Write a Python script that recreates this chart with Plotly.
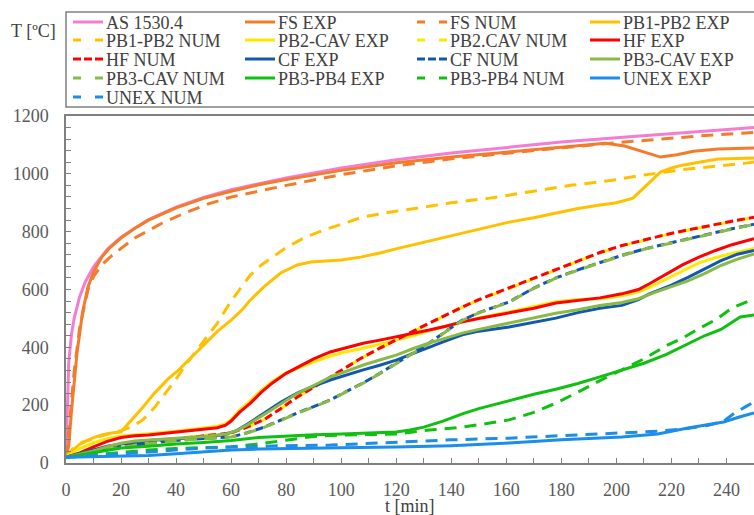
import plotly.graph_objects as go

# ---------------- data ----------------
names = ["AS 1530.4", "FS EXP", "FS NUM", "PB1-PB2 EXP", "PB1-PB2 NUM",
         "PB2-CAV EXP", "PB2.CAV NUM", "HF EXP", "HF NUM", "CF EXP",
         "CF NUM", "PB3-CAV EXP", "PB3-CAV NUM", "PB3-PB4 EXP", "PB3-PB4 NUM",
         "UNEX EXP", "UNEX NUM"]

as_t = [0, 1, 2, 3, 5, 7, 10, 15, 20, 30, 40, 50, 60, 80, 100, 120, 140, 160, 180, 200, 220, 240, 250]
as_T = [20, 349, 445, 502, 576, 626, 678, 739, 781, 842, 885, 918, 945, 986, 1020, 1049, 1072, 1092, 1110, 1125, 1140, 1153, 1160]

fs_exp_t = [0, 1, 2, 4, 6, 8, 10, 13, 16, 20, 25, 30, 40, 50, 60, 70, 80, 90, 100, 120, 140, 160, 180, 190, 196, 203, 210, 216, 222, 228, 237, 250]
fs_exp_T = [20, 60, 180, 380, 520, 610, 660, 712, 745, 778, 812, 840, 882, 915, 940, 962, 980, 997, 1012, 1038, 1058, 1075, 1092, 1100, 1106, 1096, 1075, 1058, 1066, 1078, 1086, 1089]

fs_num_t = [0, 1, 3, 5, 8, 10, 13, 16, 20, 25, 29, 35, 44, 52, 60, 68, 80, 100, 120, 140, 160, 180, 198, 212, 230, 247, 250]
fs_num_T = [20, 110, 320, 470, 600, 645, 685, 712, 742, 778, 799, 830, 868, 897, 920, 937, 960, 997, 1028, 1052, 1072, 1090, 1106, 1117, 1131, 1141, 1143]

pb12_exp_t = [0, 2, 5, 8, 10, 13, 16, 20, 24, 28, 32, 37, 41, 46, 50, 55, 60, 64, 67, 72, 78, 84, 89, 95, 100, 107, 114, 121, 129, 137, 144, 154, 161, 170, 178, 186, 194, 200, 206, 211, 216, 220, 224, 230, 237, 250]
pb12_exp_T = [20, 40, 65, 80, 88, 97, 103, 108, 150, 194, 240, 290, 322, 370, 410, 455, 494, 530, 564, 610, 657, 685, 695, 700, 702, 712, 726, 743, 761, 778, 795, 816, 833, 848, 864, 880, 892, 900, 916, 960, 1006, 1020, 1030, 1040, 1051, 1055]

pb12_num_t = [0, 3, 6, 10, 15, 20, 24, 28, 32, 36, 40, 44, 50, 55, 60, 63, 67, 71, 75, 80, 87, 95, 108, 118, 128, 140, 154, 161, 172, 184, 194, 200, 210, 226, 247, 250]
pb12_num_T = [20, 55, 72, 85, 100, 112, 125, 150, 190, 240, 290, 346, 420, 484, 560, 600, 650, 685, 712, 745, 781, 810, 851, 868, 882, 900, 916, 927, 942, 961, 972, 980, 996, 1017, 1037, 1041]

pb2cav_exp_t = [0, 5, 10, 15, 20, 25, 30, 40, 50, 55, 58, 60, 63, 67, 71, 75, 80, 86, 90, 96, 102, 108, 114, 120, 126, 132, 138, 144, 150, 161, 170, 178, 186, 194, 202, 208, 212, 218, 224, 230, 236, 242, 250]
pb2cav_exp_T = [20, 50, 70, 84, 93, 98, 101, 110, 120, 127, 136, 150, 182, 215, 252, 282, 312, 335, 350, 370, 385, 397, 410, 425, 440, 458, 473, 488, 502, 522, 540, 558, 565, 568, 578, 592, 607, 636, 665, 692, 710, 725, 742]

pb2cav_num_t = [0, 5, 10, 15, 20, 25, 30, 40, 50, 55, 60, 66, 72, 78, 84, 90, 96, 102, 108, 114, 120, 126, 132, 138, 144, 150, 154, 161, 170, 178, 186, 194, 202, 210, 218, 226, 234, 242, 250]
pb2cav_num_T = [20, 31, 43, 55, 63, 69, 74, 85, 95, 99, 104, 124, 150, 187, 227, 262, 296, 331, 366, 396, 425, 455, 483, 511, 538, 564, 578, 603, 638, 668, 699, 727, 751, 771, 789, 805, 821, 835, 849]

hf_exp_t = [0, 5, 10, 15, 20, 25, 30, 35, 40, 45, 50, 55, 58, 60, 63, 67, 71, 75, 80, 86, 90, 96, 102, 108, 114, 120, 126, 132, 138, 144, 150, 161, 170, 178, 186, 194, 202, 208, 212, 218, 224, 230, 236, 242, 250]
hf_exp_T = [20, 35, 56, 75, 88, 94, 97, 102, 106, 110, 115, 122, 131, 145, 175, 207, 245, 277, 310, 339, 360, 384, 398, 414, 425, 436, 448, 460, 473, 488, 500, 518, 535, 553, 562, 571, 585, 600, 620, 652, 685, 712, 735, 755, 776]

hf_num_t = [0, 5, 10, 15, 20, 25, 30, 40, 50, 55, 60, 66, 72, 78, 84, 90, 96, 102, 108, 114, 120, 126, 132, 138, 144, 150, 154, 161, 170, 178, 186, 194, 202, 210, 218, 226, 234, 242, 250]
hf_num_T = [20, 30, 42, 54, 62, 68, 73, 84, 95, 99, 104, 125, 150, 188, 228, 262, 297, 332, 367, 397, 425, 455, 484, 512, 539, 565, 580, 605, 640, 670, 700, 728, 752, 772, 790, 806, 822, 836, 850]

cf_exp_t = [0, 5, 10, 15, 20, 25, 30, 40, 46, 52, 58, 62, 66, 72, 78, 84, 90, 96, 102, 108, 114, 120, 126, 132, 138, 144, 150, 161, 170, 178, 186, 194, 202, 208, 212, 220, 226, 232, 238, 244, 250]
cf_exp_T = [20, 32, 45, 58, 66, 72, 78, 84, 86, 90, 100, 112, 135, 173, 210, 242, 266, 287, 305, 322, 338, 356, 378, 401, 422, 443, 456, 470, 486, 501, 520, 535, 545, 565, 585, 615, 642, 672, 700, 722, 735]

cf_num_t = [0, 10, 20, 30, 40, 50, 60, 66, 72, 78, 84, 90, 96, 102, 108, 114, 120, 126, 132, 138, 144, 150, 161, 170, 178, 186, 194, 202, 210, 218, 226, 234, 242, 250]
cf_num_T = [20, 38, 55, 68, 78, 85, 90, 105, 124, 148, 173, 195, 218, 248, 277, 310, 346, 380, 415, 455, 494, 520, 557, 605, 640, 668, 693, 718, 740, 758, 775, 793, 810, 826]

pb3cav_exp_t = [0, 5, 10, 15, 20, 25, 30, 40, 50, 58, 62, 66, 72, 78, 84, 90, 96, 102, 108, 114, 120, 126, 132, 138, 144, 150, 161, 170, 178, 186, 194, 202, 208, 214, 220, 226, 232, 238, 244, 250]
pb3cav_exp_T = [20, 30, 42, 56, 68, 76, 80, 86, 92, 100, 112, 132, 168, 205, 240, 268, 297, 318, 339, 356, 373, 395, 415, 432, 449, 462, 484, 500, 518, 530, 545, 555, 568, 590, 610, 630, 655, 683, 705, 723]

pb3cav_num_t = [0, 10, 20, 30, 40, 50, 60, 66, 72, 78, 84, 90, 96, 102, 108, 114, 120, 126, 132, 138, 144, 150, 161, 170, 178, 186, 194, 202, 210, 218, 226, 234, 242, 250]
pb3cav_num_T = [20, 37, 54, 67, 77, 84, 90, 104, 123, 147, 172, 194, 217, 247, 276, 309, 345, 379, 414, 454, 493, 519, 556, 604, 639, 667, 692, 717, 739, 757, 774, 792, 809, 825]

pb34_exp_t = [0, 5, 10, 20, 30, 40, 50, 60, 70, 80, 90, 100, 110, 120, 125, 130, 137, 144, 150, 154, 161, 170, 178, 186, 194, 202, 210, 218, 226, 232, 238, 242, 245, 250]
pb34_exp_T = [20, 28, 38, 52, 58, 66, 71, 78, 88, 93, 98, 100, 103, 107, 114, 124, 145, 170, 188, 198, 218, 238, 255, 275, 298, 322, 345, 375, 413, 440, 462, 488, 505, 512]

pb34_num_t = [0, 10, 20, 30, 40, 50, 60, 70, 80, 90, 100, 110, 120, 132, 144, 154, 161, 170, 178, 186, 194, 202, 210, 218, 224, 230, 236, 242, 250]
pb34_num_T = [20, 28, 38, 45, 50, 53, 56, 66, 80, 92, 97, 99, 100, 114, 124, 138, 149, 175, 207, 245, 285, 322, 360, 405, 432, 465, 495, 536, 568]

unex_exp_t = [0, 10, 20, 30, 40, 50, 60, 70, 80, 90, 100, 120, 140, 161, 180, 202, 215, 226, 232, 239, 245, 250]
unex_exp_T = [20, 22, 24, 26, 32, 38, 45, 48, 50, 52, 53, 55, 60, 69, 80, 90, 100, 121, 130, 142, 160, 173]

unex_num_t = [0, 10, 20, 30, 40, 50, 60, 70, 80, 96, 120, 140, 161, 180, 202, 215, 225, 233, 239, 243, 247, 250]
unex_num_T = [20, 25, 32, 38, 45, 52, 55, 58, 60, 62, 73, 80, 86, 95, 104, 110, 118, 130, 145, 173, 195, 211]

series_t = [as_t, fs_exp_t, fs_num_t, pb12_exp_t, pb12_num_t, pb2cav_exp_t, pb2cav_num_t,
            hf_exp_t, hf_num_t, cf_exp_t, cf_num_t, pb3cav_exp_t, pb3cav_num_t,
            pb34_exp_t, pb34_num_t, unex_exp_t, unex_num_t]
series_T = [as_T, fs_exp_T, fs_num_T, pb12_exp_T, pb12_num_T, pb2cav_exp_T, pb2cav_num_T,
            hf_exp_T, hf_num_T, cf_exp_T, cf_num_T, pb3cav_exp_T, pb3cav_num_T,
            pb34_exp_T, pb34_num_T, unex_exp_T, unex_num_T]

x_ticks = list(range(0, 260, 20))
y_ticks = list(range(0, 1400, 200))

# ---------------- styles ----------------
PINK, ORANGE, GOLD, YELLOW = "#F47DD2", "#F47B2A", "#FFC000", "#FFE800"
RED, DBLUE, LGREEN, GREEN, SKY = "#FF0000", "#1357B0", "#88BA45", "#10C010", "#1C8DE8"
colors = [PINK, ORANGE, ORANGE, GOLD, GOLD, YELLOW, YELLOW, RED, RED, DBLUE, DBLUE,
          LGREEN, LGREEN, GREEN, GREEN, SKY, SKY]
LONG = "12px,8px"
SHORT = "8px,4px"
dashes = ["solid", "solid", LONG, "solid", LONG, "solid", LONG, "solid", SHORT,
          "solid", SHORT, "solid", LONG, "solid", LONG, "solid", LONG]
leg_dashes = ["solid", "solid", "8px,14px", "solid", "8px,14px", "solid", "8px,14px",
              "solid", "8px,3px", "solid", "8px,3px", "solid", "8px,14px", "solid",
              "8px,14px", "solid", "8px,14px"]

FONT = "'Liberation Serif', 'Times New Roman', Times, serif"
TXT = "#595959"
AX = "#808080"

# pixel layout helpers
L, R, TOP, BOT = 66, 754, 116, 463
def px(x):
    return (x - L) / (R - L)
def py(y):
    return (BOT - y) / (BOT - TOP)

fig = go.Figure()
for t, T, n, c, d in zip(series_t, series_T, names, colors, dashes):
    fig.add_trace(go.Scatter(x=t, y=T, name=n, mode="lines",
                             line=dict(color=c, width=3, dash=d),
                             showlegend=False))

shapes = []
annotations = []
# legend box
shapes.append(dict(type="rect", xref="paper", yref="paper",
                   x0=px(66), x1=px(800), y0=py(107), y1=py(12),
                   line=dict(color=AX, width=1.5), fillcolor="white", layer="above"))
col_x = [73, 245, 417, 590]
row_y = [22, 40, 59, 78, 97]
for i, (n, c, d) in enumerate(zip(names, colors, leg_dashes)):
    r, k = divmod(i, 4)
    x0 = col_x[k]
    y0 = row_y[r]
    shapes.append(dict(type="line", xref="paper", yref="paper",
                       x0=px(x0), x1=px(x0 + 30), y0=py(y0), y1=py(y0),
                       line=dict(color=c, width=3, dash=d), layer="above"))
    annotations.append(dict(text=n, xref="paper", yref="paper", x=px(x0 + 31), y=py(y0 + 1),
                            xanchor="left", yanchor="middle", showarrow=False,
                            font=dict(family=FONT, size=18, color="#404040")))

annotations.append(dict(text="T [ºC]", xref="paper", yref="paper", x=px(33), y=py(31),
                        xanchor="center", yanchor="middle", showarrow=False,
                        font=dict(family=FONT, size=18, color="#404040")))
annotations.append(dict(text="t [min]", xref="paper", yref="paper", x=0.5, y=py(506),
                        xanchor="center", yanchor="middle", showarrow=False,
                        font=dict(family=FONT, size=18, color="#404040")))

fig.update_layout(
    width=754, height=515,
    margin=dict(l=L, r=754 - R, t=TOP, b=515 - BOT, autoexpand=False),
    paper_bgcolor="white", plot_bgcolor="white",
    font=dict(family=FONT, size=18, color=TXT),
    showlegend=False,
    shapes=shapes, annotations=annotations,
    xaxis=dict(range=[0, 250], tickvals=x_ticks, showgrid=False, zeroline=False,
               automargin=False,
               showline=True, linecolor=AX, linewidth=1.5, mirror=True,
               ticks="inside", ticklen=5, tickcolor=AX, tickwidth=1.2,
               minor=dict(dtick=10, ticks="inside", ticklen=5, tickcolor=AX, tickwidth=1.2, showgrid=False),
               tickfont=dict(family=FONT, size=18, color=TXT), ticklabelstandoff=10),
    yaxis=dict(range=[0, 1200], tickvals=y_ticks, showgrid=False, zeroline=False,
               automargin=False,
               showline=True, linecolor=AX, linewidth=1.5,
               ticks="inside", ticklen=5, tickcolor=AX, tickwidth=1.2,
               minor=dict(dtick=40, ticks="inside", ticklen=5, tickcolor=AX, tickwidth=1.2, showgrid=False),
               tickfont=dict(family=FONT, size=18, color=TXT), ticklabelstandoff=12),
)

fig.write_html("out.html")
